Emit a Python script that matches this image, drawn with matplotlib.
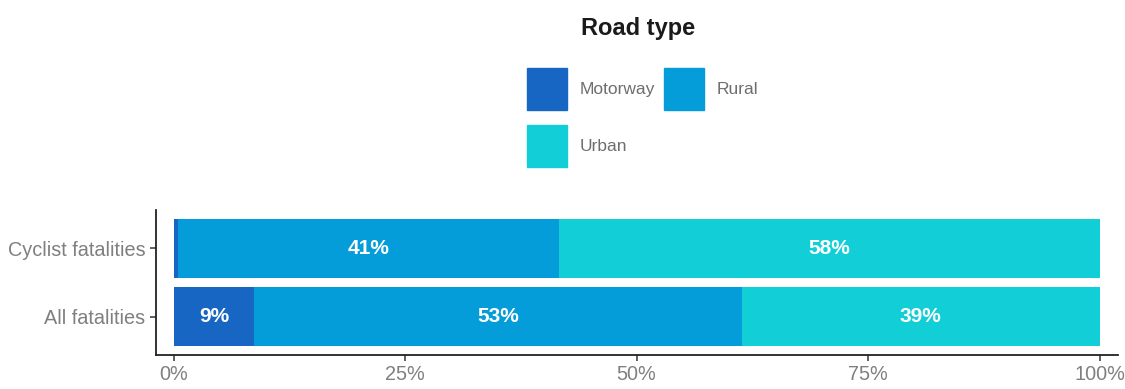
import numpy as np
import matplotlib.pyplot as plt
from matplotlib.patches import Patch
from matplotlib.ticker import FuncFormatter

plt.rcParams['font.family'] = ['Liberation Sans', 'DejaVu Sans']

# --- Daten ---
groups = ['All fatalities', 'Cyclist fatalities']
road_types = ['Motorway', 'Rural', 'Urban']
motorway = [8.7, 0.5]
rural = [52.7, 41.1]
urban = [38.6, 58.4]
labels = {
    'Motorway': ['9%', ''],
    'Rural': ['53%', '41%'],
    'Urban': ['39%', '58%'],
}
colors = {'Motorway': '#1766c3', 'Rural': '#049cd9', 'Urban': '#12cfd7'}

# --- Plot ---
fig = plt.figure(figsize=(11.25, 3.89), dpi=100)
ax = fig.add_axes([0.1387, 0.0874, 0.8551, 0.3727])

y = np.arange(len(groups))
left = np.zeros(len(groups))
for name, vals in zip(road_types, [motorway, rural, urban]):
    vals = np.array(vals)
    ax.barh(y, vals, left=left, height=0.86, color=colors[name], linewidth=0)
    for yi, l, v, txt in zip(y, left, vals, labels[name]):
        if txt:
            ax.text(l + v / 2, yi, txt, ha='center', va='center',
                    color='white', fontsize=15, fontweight='bold')
    left += vals

ax.set_xlim(-1.9, 102.0)
ax.set_ylim(-0.555, 1.56)
ax.set_yticks(y)
ax.set_yticklabels(groups)
ax.set_xticks([0, 25, 50, 75, 100])
ax.xaxis.set_major_formatter(FuncFormatter(lambda v, p: f'{v:.0f}%'))

for s in ['top', 'right']:
    ax.spines[s].set_visible(False)
for s in ['left', 'bottom']:
    ax.spines[s].set_color('#222222')
    ax.spines[s].set_linewidth(1.3)
ax.tick_params(axis='both', colors='#333333', labelcolor='#7f7f7f',
               labelsize=14.3, length=4, width=1.1)

# --- Legende ---
fig.text(0.567, 1 - 28 / 389, 'Road type', ha='center', va='center',
         fontsize=17, fontweight='bold', color='#1a1a1a')
handles = [Patch(color=colors[n], label=n) for n in ['Motorway', 'Urban', 'Rural']]
fig.legend(handles=handles, ncol=2, loc='upper left',
           bbox_to_anchor=(527 / 1125, 1 - 68 / 389), frameon=False,
           borderpad=0, borderaxespad=0, fontsize=12.5, labelcolor='#6e6e6e',
           handlelength=2.3, handleheight=3.35, handletextpad=0.75,
           columnspacing=0.5, labelspacing=0.85)

fig.savefig('out.png', dpi=100)
